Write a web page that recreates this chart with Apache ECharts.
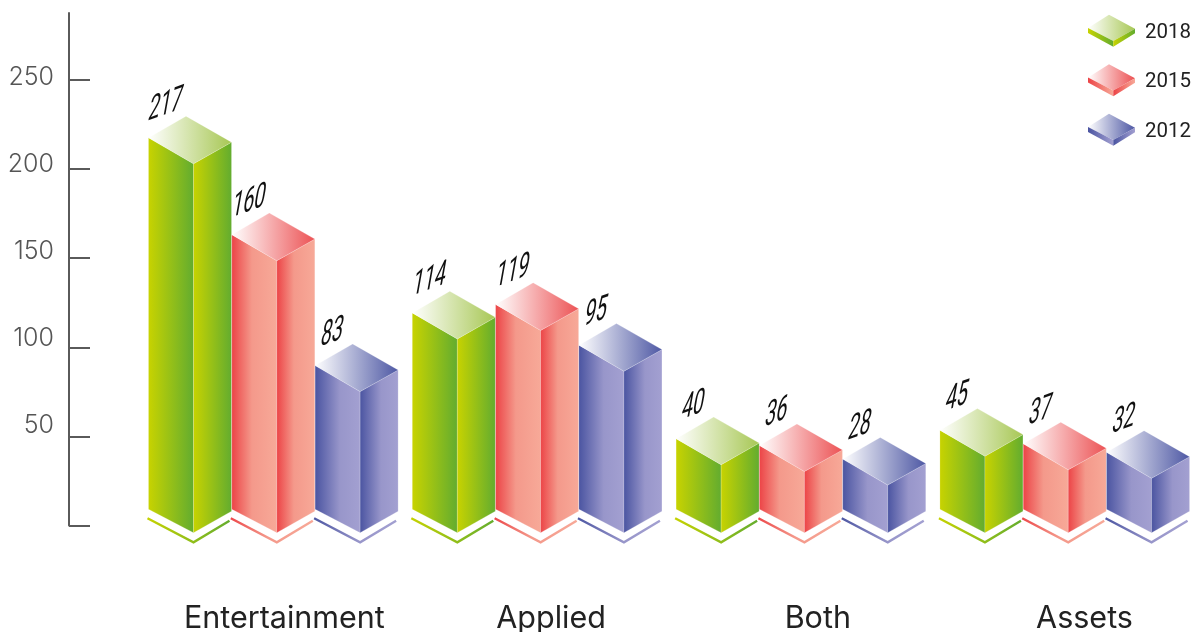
<!DOCTYPE html>
<html>
<head>
<meta charset="utf-8">
<style>html,body{margin:0;padding:0;background:#fff}#chart{width:1192px;height:632px}</style>
<script src="https://cdn.jsdelivr.net/npm/echarts@6/dist/echarts.min.js"></script>
</head>
<body>
<div id="chart"></div>
<script>
// Survey counts per category and year
var categories = ['Entertainment', 'Applied', 'Both', 'Assets'];
var years = ['2018', '2015', '2012'];
var values2018 = [217, 114, 40, 45];
var values2015 = [160, 119, 36, 37];
var values2012 = [83, 95, 28, 32];
var axisTicks = [0, 50, 100, 150, 200, 250];
var axisLabels = [50, 100, 150, 200, 250];
var categoryPositions = [0, 1, 2, 3];

// Face colours per year: gradient start, middle stop, gradient end, far end of the top face
var palette2018 = ['#c8d300', '#95c018', '#62ac2f', '#a7c754'];
var palette2015 = ['#ec4346', '#f4998b', '#f7a998', '#ec5254'];
var palette2012 = ['#4a54a1', '#9896ca', '#a3a0d1', '#4e58a4'];
var palettes = [palette2018, palette2015, palette2012];
var seriesValues = [values2018, values2015, values2012];
var midOffsets = [0.5, 0.45, 0.55];

function sideGradient(i) {
  var p = palettes[i];
  return { type: 'linear', x: 0, y: 0, x2: 1, y2: 0, colorStops: [
    { offset: 0, color: p[0] }, { offset: midOffsets[i], color: p[1] }, { offset: 1, color: p[2] }] };
}
function topGradient(i) {
  return { type: 'linear', x: 0, y: 0, x2: 1, y2: 0, colorStops: [
    { offset: 0, color: '#ffffff' }, { offset: 1, color: palettes[i][3] }] };
}

// Isometric block anchored on its front vertical edge
function renderBlock(seriesIndex, params, api) {
  var cat = api.value(0);
  var value = api.value(1);
  var band = api.size([1, 0])[0];
  var slot = band * 0.3158;
  var center = api.coord([cat, 0])[0];
  var base = api.coord([cat, 0])[1];
  var topY = api.coord([cat, value])[1];
  var leftEdge = center - band / 2 + 7 + slot * seriesIndex;
  var fx = leftEdge + 45;
  var seam = 'rgba(255,255,255,0.35)';
  return { type: 'group', children: [
    { type: 'polygon', shape: { points: [[fx - 45, topY - 26], [fx, topY], [fx, base], [fx - 45, base - 23.5]] },
      style: { fill: sideGradient(seriesIndex), stroke: seam, lineWidth: 0.5 } },
    { type: 'polygon', shape: { points: [[fx, topY], [fx + 38, topY - 21.6], [fx + 38, base - 21.5], [fx, base]] },
      style: { fill: sideGradient(seriesIndex), stroke: seam, lineWidth: 0.5 } },
    { type: 'polygon', shape: { points: [[fx - 45, topY - 26], [fx - 7.5, topY - 47.6], [fx + 38, topY - 21.6], [fx, topY]] },
      style: { fill: topGradient(seriesIndex), stroke: seam, lineWidth: 0.5 } },
    { type: 'polyline', shape: { points: [[fx - 46, base - 14.4], [fx, base + 9.6], [fx + 36, base - 12]] },
      style: { fill: null, stroke: sideGradient(seriesIndex), lineWidth: 2.4 } },
    // Value label: nested rotate and scale give a narrow, sheared figure on a rising baseline
    { type: 'group', x: fx - 28, y: topY - 58, rotation: -0.345, scaleX: 0.478, scaleY: 1.055, children: [
      { type: 'text', rotation: 0.36,
        style: { text: String(value), fill: '#111111', align: 'center', verticalAlign: 'middle',
                 fontFamily: 'Roboto', fontWeight: 400, fontSize: 36 } }
    ] }
  ] };
}

// Flat slab used as the legend key, sitting at the top of its cell so the text centres lower
function legendIcon(pal) {
  var svg = '<svg xmlns="http://www.w3.org/2000/svg" width="48" height="37" viewBox="0 0 48 37"><defs>' +
    '<linearGradient id="s"><stop offset="0" stop-color="' + pal[0] + '"/><stop offset="1" stop-color="' + pal[2] + '"/></linearGradient>' +
    '<linearGradient id="t"><stop offset="0" stop-color="#fff"/><stop offset="1" stop-color="' + pal[3] + '"/></linearGradient></defs>' +
    '<polygon points="0,14 21,0.7 47,14.7 25.3,27" fill="url(#t)"/>' +
    '<polygon points="0,14 25.3,27 25.3,32.7 0,19" fill="url(#s)"/>' +
    '<polygon points="25.3,27 47,14.7 47,19.3 25.3,32.7" fill="url(#s)"/></svg>';
  return 'image://data:image/svg+xml;charset=utf-8,' + encodeURIComponent(svg);
}

var chart = echarts.init(document.getElementById('chart'), null, { renderer: 'canvas' });
chart.setOption({
  animation: false,
  backgroundColor: '#ffffff',
  legend: {
    orient: 'vertical', left: 1088, top: 14, padding: 0, itemWidth: 48, itemHeight: 37, itemGap: 12.5,
    data: years.map(function (y, i) {
      return { name: y, icon: legendIcon(palettes[i]) };
    }),
    textStyle: { fontFamily: 'Roboto', fontSize: 20.5, color: '#222222', padding: [0, 0, 0, 4] }
  },
  grid: [
    { left: 151, width: 1041, top: 13, height: 512.5, outerBoundsMode: 'none' },
    { left: 141.5, width: 1050.5, top: 13, height: 519.7, outerBoundsMode: 'none' }
  ],
  xAxis: [
    { type: 'value', gridIndex: 0, min: -0.5, max: 3.403, splitLine: { show: false },
      axisLine: { show: false }, axisTick: { show: false },
      axisLabel: { margin: 78, fontFamily: 'Inter', fontWeight: 400, fontSize: 30.5, color: '#222222',
                   customValues: categoryPositions, showMinLabel: true, showMaxLabel: true,
                   formatter: function (v) { return categories[v]; } } },
    { type: 'value', gridIndex: 1, min: -0.5, max: 3.482, show: false }
  ],
  yAxis: [
    { type: 'value', gridIndex: 0, position: 'left', offset: 82, min: 0, max: 287.6,
      splitLine: { show: false }, axisLabel: { show: false },
      axisLine: { show: true, onZero: false, lineStyle: { color: '#5a5a5a', width: 2 } },
      axisTick: { show: true, inside: true, length: 21, customValues: axisTicks, lineStyle: { color: '#5a5a5a', width: 2 } } },
    { type: 'value', gridIndex: 0, position: 'left', offset: 82, min: -7.2, max: 287.3,
      splitLine: { show: false }, axisLine: { show: false, onZero: false }, axisTick: { show: false },
      axisLabel: { show: true, margin: 15, customValues: axisLabels, showMinLabel: true, showMaxLabel: true,
                   fontFamily: 'Inter', fontWeight: 300, fontSize: 25, color: '#555555' } },
    { type: 'value', gridIndex: 1, min: 0, max: 305.7, show: false }
  ],
  series: years.map(function (y, i) {
    return {
      type: 'custom', name: y, xAxisIndex: 1, yAxisIndex: 2,
      encode: { x: 0, y: 1 },
      renderItem: function (params, api) { return renderBlock(i, params, api); },
      data: seriesValues[i].map(function (v, c) { return [c, v]; })
    };
  })
});
</script>
</body>
</html>
